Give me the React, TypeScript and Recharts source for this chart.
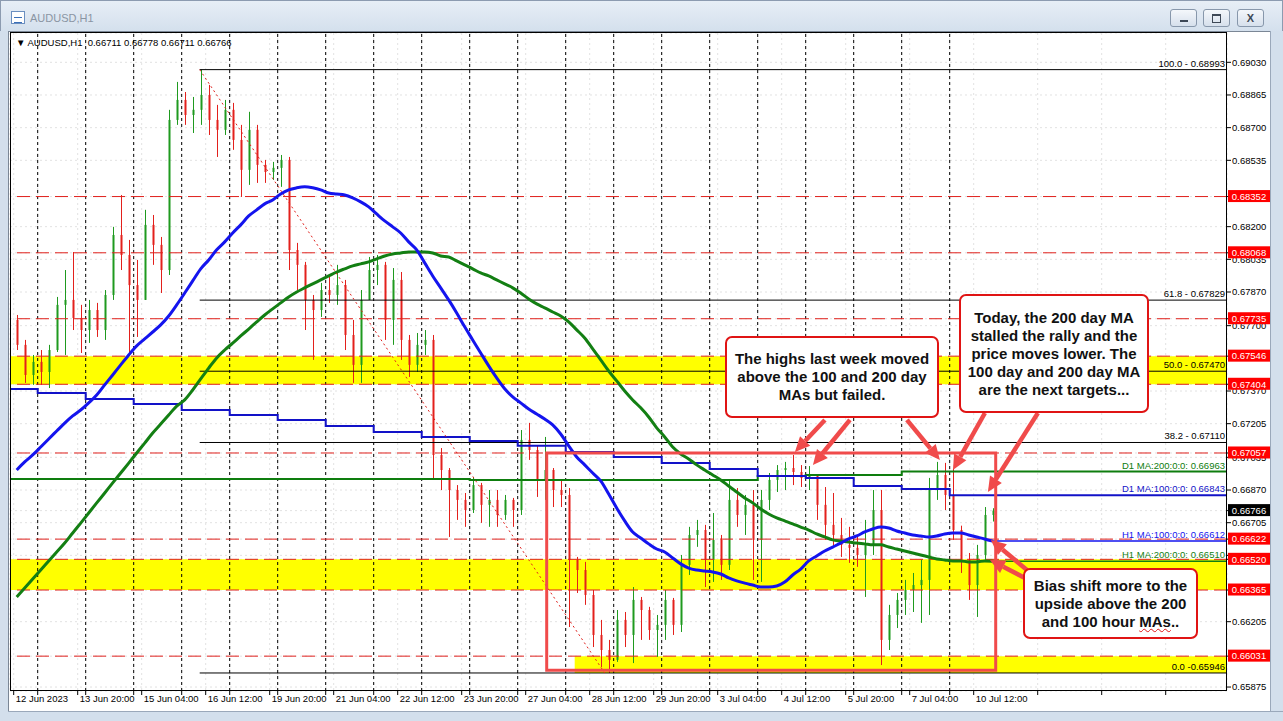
import React from 'react';
import { ComposedChart, Bar, Line, XAxis, YAxis, CartesianGrid, ReferenceLine, ReferenceArea } from 'recharts';

const W = 1283;
const H = 721;
const FONT = "'Liberation Sans', Arial, sans-serif";

// 4-hour OHLC bars [open, high, low, close]; the first visible bar opens 12 Jun 12:00
const week1 = [
  [0.67729, 0.67754, 0.67577, 0.67603], [0.67603, 0.67628, 0.67411, 0.67451], [0.67451, 0.67552, 0.67401, 0.67517],
  [0.67517, 0.67577, 0.67401, 0.67466], [0.67466, 0.67603, 0.67385, 0.67577], [0.67577, 0.67845, 0.67567, 0.67805],
  [0.67805, 0.67981, 0.67552, 0.67830], [0.67830, 0.68072, 0.67678, 0.67739], [0.67739, 0.67805, 0.67562, 0.67678],
  [0.67678, 0.67830, 0.67613, 0.67779], [0.67779, 0.67815, 0.67643, 0.67678], [0.67678, 0.67880, 0.67628, 0.67855],
  [0.67855, 0.68199, 0.67830, 0.68158], [0.68158, 0.68360, 0.67981, 0.68057], [0.68057, 0.68133, 0.67562, 0.67905],
  [0.67905, 0.68032, 0.67643, 0.67830], [0.67830, 0.68285, 0.67830, 0.68209], [0.68209, 0.68259, 0.68007, 0.68108],
  [0.68108, 0.68148, 0.67865, 0.67981], [0.67981, 0.68790, 0.67956, 0.68739], [0.68739, 0.68931, 0.68714, 0.68840],
  [0.68840, 0.68880, 0.68714, 0.68764], [0.68764, 0.68855, 0.68673, 0.68790], [0.68790, 0.68993, 0.68714, 0.68865],
  [0.68865, 0.68916, 0.68663, 0.68739], [0.68739, 0.68815, 0.68552, 0.68689], [0.68689, 0.68840, 0.68663, 0.68790],
];
const week2 = [
  [0.68790, 0.68825, 0.68588, 0.68638], [0.68638, 0.68714, 0.68350, 0.68487], [0.68487, 0.68780, 0.68411, 0.68689],
  [0.68689, 0.68714, 0.68421, 0.68512], [0.68512, 0.68537, 0.68421, 0.68476], [0.68476, 0.68527, 0.68436, 0.68497],
  [0.68497, 0.68562, 0.68401, 0.68537], [0.68537, 0.68552, 0.67981, 0.68082], [0.68082, 0.68118, 0.67880, 0.68007],
  [0.68007, 0.68022, 0.67678, 0.67830], [0.67830, 0.67855, 0.67527, 0.67779], [0.67779, 0.67916, 0.67744, 0.67880],
  [0.67880, 0.67946, 0.67815, 0.67855], [0.67855, 0.68007, 0.67805, 0.67905], [0.67905, 0.67931, 0.67577, 0.67653],
  [0.67653, 0.67729, 0.67411, 0.67502], [0.67502, 0.67880, 0.67411, 0.67830], [0.67830, 0.68047, 0.67830, 0.67981],
  [0.67981, 0.68057, 0.67905, 0.68007], [0.68007, 0.68022, 0.67628, 0.67729], [0.67729, 0.67991, 0.67603, 0.67931],
  [0.67931, 0.67971, 0.67527, 0.67628], [0.67628, 0.67653, 0.67441, 0.67502], [0.67502, 0.67663, 0.67466, 0.67603],
  [0.67603, 0.67678, 0.67552, 0.67628], [0.67628, 0.67653, 0.66921, 0.67047], [0.67047, 0.67082, 0.66870, 0.66971],
  [0.66971, 0.66981, 0.66633, 0.66870], [0.66870, 0.66895, 0.66719, 0.66820], [0.66820, 0.66855, 0.66684, 0.66769],
];
const week3 = [
  [0.66769, 0.66936, 0.66754, 0.66895], [0.66895, 0.66906, 0.66704, 0.66795], [0.66795, 0.66870, 0.66684, 0.66820],
  [0.66820, 0.66870, 0.66684, 0.66744], [0.66744, 0.66845, 0.66719, 0.66820], [0.66820, 0.66830, 0.66684, 0.66769],
  [0.66769, 0.67173, 0.66744, 0.67123], [0.67123, 0.67209, 0.67022, 0.67072], [0.67072, 0.67097, 0.66835, 0.66921],
  [0.66921, 0.67138, 0.66820, 0.66971], [0.66971, 0.66981, 0.66784, 0.66870], [0.66870, 0.66921, 0.66784, 0.66845],
  [0.66845, 0.66880, 0.66178, 0.66517], [0.66517, 0.66532, 0.66350, 0.66466], [0.66466, 0.66507, 0.66290, 0.66340],
  [0.66340, 0.66365, 0.66077, 0.66138], [0.66138, 0.66214, 0.65976, 0.66062], [0.66062, 0.66113, 0.65946, 0.66012],
  [0.66012, 0.66264, 0.66002, 0.66214], [0.66214, 0.66254, 0.66077, 0.66138], [0.66138, 0.66380, 0.65996, 0.66315],
  [0.66315, 0.66330, 0.66113, 0.66264], [0.66264, 0.66280, 0.66113, 0.66163], [0.66163, 0.66239, 0.66027, 0.66189],
  [0.66189, 0.66365, 0.66113, 0.66315], [0.66315, 0.66325, 0.66138, 0.66189], [0.66189, 0.66542, 0.66153, 0.66492],
  [0.66492, 0.66684, 0.66441, 0.66643], [0.66643, 0.66719, 0.66583, 0.66668], [0.66668, 0.66694, 0.66380, 0.66517],
];
const week4 = [
  [0.66517, 0.66754, 0.66406, 0.66618], [0.66618, 0.66643, 0.66416, 0.66492], [0.66492, 0.66921, 0.66466, 0.66820],
  [0.66820, 0.66880, 0.66684, 0.66744], [0.66744, 0.66845, 0.66643, 0.66795], [0.66795, 0.66870, 0.66416, 0.66618],
  [0.66618, 0.66870, 0.66406, 0.66820], [0.66820, 0.66956, 0.66769, 0.66921], [0.66921, 0.66996, 0.66860, 0.66971],
  [0.66971, 0.67012, 0.66870, 0.66981], [0.66981, 0.67047, 0.66895, 0.66961], [0.66961, 0.66996, 0.66885, 0.66931],
  [0.66931, 0.66991, 0.66870, 0.66941], [0.66941, 0.66946, 0.66719, 0.66795], [0.66795, 0.66885, 0.66618, 0.66694],
  [0.66694, 0.66855, 0.66583, 0.66643], [0.66643, 0.66729, 0.66532, 0.66593], [0.66593, 0.66684, 0.66502, 0.66578],
  [0.66578, 0.66633, 0.66482, 0.66542], [0.66542, 0.66719, 0.66330, 0.66593], [0.66593, 0.66870, 0.66542, 0.66769],
  [0.66769, 0.66870, 0.65986, 0.66113], [0.66113, 0.66290, 0.66062, 0.66239], [0.66239, 0.66350, 0.66173, 0.66315],
  [0.66315, 0.66416, 0.66239, 0.66365], [0.66365, 0.66451, 0.66254, 0.66390], [0.66390, 0.66517, 0.66199, 0.66416],
  [0.66416, 0.66931, 0.66239, 0.66870], [0.66870, 0.67012, 0.66820, 0.66946], [0.66946, 0.67007, 0.66769, 0.66845],
];
const week5 = [
  [0.66845, 0.66981, 0.66618, 0.66668], [0.66668, 0.66690, 0.66451, 0.66517], [0.66517, 0.66552, 0.66315, 0.66390],
  [0.66390, 0.66593, 0.66229, 0.66542], [0.66542, 0.66784, 0.66517, 0.66744], [0.66744, 0.66778, 0.66711, 0.66766],
];
const FIRST_BAR = 3; // 4h bars counted from 12 Jun 00:00

// hourly moving averages, sampled at the same 4h bars
const h1Ma100 = [
  0.66971, 0.67012, 0.67047, 0.67087, 0.67128, 0.67168, 0.67208, 0.67244, 0.67274, 0.67310, 0.67350, 0.67401,
  0.67451, 0.67502, 0.67552, 0.67598, 0.67633, 0.67668, 0.67704, 0.67749, 0.67805, 0.67865, 0.67926, 0.67987,
  0.68032, 0.68083, 0.68123, 0.68168, 0.68209, 0.68254, 0.68285, 0.68315, 0.68335, 0.68365, 0.68386, 0.68396,
  0.68401, 0.68396, 0.68386, 0.68370, 0.68365, 0.68360, 0.68345, 0.68325, 0.68300, 0.68264, 0.68229, 0.68199,
  0.68168, 0.68123, 0.68083, 0.68017, 0.67951, 0.67891, 0.67830, 0.67764, 0.67694, 0.67628, 0.67562, 0.67497,
  0.67436, 0.67381, 0.67340, 0.67310, 0.67279, 0.67254, 0.67229, 0.67199, 0.67153, 0.67093, 0.67037, 0.66997,
  0.66956, 0.66916, 0.66850, 0.66779, 0.66714, 0.66658, 0.66628, 0.66598, 0.66572, 0.66557, 0.66527, 0.66497,
  0.66476, 0.66466, 0.66461, 0.66456, 0.66446, 0.66426, 0.66411, 0.66400, 0.66390, 0.66380, 0.66380, 0.66385,
  0.66405, 0.66441, 0.66471, 0.66512, 0.66537, 0.66562, 0.66582, 0.66602, 0.66623, 0.66638, 0.66658, 0.66673,
  0.66683, 0.66678, 0.66663, 0.66653, 0.66643, 0.66638, 0.66633, 0.66638, 0.66648, 0.66653, 0.66653, 0.66643,
  0.66633, 0.66623, 0.66612,
];
const h1Ma200 = [
  0.66330, 0.66375, 0.66421, 0.66466, 0.66512, 0.66557, 0.66602, 0.66653, 0.66703, 0.66754, 0.66805, 0.66855,
  0.66906, 0.66956, 0.67006, 0.67057, 0.67107, 0.67158, 0.67203, 0.67249, 0.67294, 0.67325, 0.67375, 0.67431,
  0.67486, 0.67537, 0.67577, 0.67612, 0.67648, 0.67683, 0.67719, 0.67754, 0.67785, 0.67815, 0.67845, 0.67870,
  0.67891, 0.67911, 0.67931, 0.67951, 0.67971, 0.67987, 0.68002, 0.68012, 0.68022, 0.68037, 0.68052, 0.68062,
  0.68067, 0.68072, 0.68072, 0.68072, 0.68067, 0.68052, 0.68047, 0.68027, 0.68007, 0.67987, 0.67966, 0.67951,
  0.67931, 0.67911, 0.67891, 0.67865, 0.67835, 0.67810, 0.67790, 0.67769, 0.67749, 0.67719, 0.67679, 0.67638,
  0.67583, 0.67527, 0.67471, 0.67421, 0.67370, 0.67325, 0.67285, 0.67239, 0.67184, 0.67138, 0.67087, 0.67052,
  0.67027, 0.66997, 0.66971, 0.66946, 0.66921, 0.66890, 0.66860, 0.66830, 0.66805, 0.66774, 0.66749, 0.66729,
  0.66714, 0.66699, 0.66683, 0.66668, 0.66648, 0.66633, 0.66618, 0.66613, 0.66608, 0.66602, 0.66598, 0.66593,
  0.66593, 0.66582, 0.66572, 0.66562, 0.66552, 0.66542, 0.66532, 0.66522, 0.66517, 0.66512, 0.66512, 0.66507,
  0.66507, 0.66512, 0.66510,
];

// daily moving averages, one value per trading day 12 Jun .. 10 Jul
const d1Ma100 = [
  0.67380, 0.67360, 0.67330, 0.67304, 0.67274, 0.67249, 0.67224, 0.67193, 0.67163, 0.67138, 0.67118,
  0.67093, 0.67062, 0.67037, 0.67007, 0.66976, 0.66941, 0.66931, 0.66890, 0.66875, 0.66843,
];
const d1Ma200 = [
  0.66926, 0.66926, 0.66926, 0.66926, 0.66926, 0.66926, 0.66926, 0.66926, 0.66926, 0.66926, 0.66921,
  0.66921, 0.66921, 0.66921, 0.66921, 0.66921, 0.66941, 0.66946, 0.66946, 0.66963, 0.66963,
];

// hour index counted from 12 Jun 00:00 (trading hours only)
const dateTicks = [
  { t: 12, label: '12 Jun 2023' }, { t: 44, label: '13 Jun 20:00' }, { t: 76, label: '15 Jun 04:00' },
  { t: 108, label: '16 Jun 12:00' }, { t: 140, label: '19 Jun 20:00' }, { t: 172, label: '21 Jun 04:00' },
  { t: 204, label: '22 Jun 12:00' }, { t: 236, label: '23 Jun 20:00' }, { t: 268, label: '27 Jun 04:00' },
  { t: 300, label: '28 Jun 12:00' }, { t: 332, label: '29 Jun 20:00' }, { t: 364, label: '3 Jul 04:00' },
  { t: 396, label: '4 Jul 12:00' }, { t: 428, label: '5 Jul 20:00' }, { t: 460, label: '7 Jul 04:00' },
  { t: 492, label: '10 Jul 12:00' }, { t: 524, label: '' }, { t: 556, label: '' }, { t: 588, label: '' },
];
const dayStarts = d1Ma100.map((_, d) => 24 * d).filter((t) => t > 0);
const priceTicks = [
  0.69030, 0.68865, 0.68700, 0.68535, 0.68200, 0.68035, 0.67870, 0.67700,
  0.67370, 0.67205, 0.67035, 0.66870, 0.66705, 0.66540, 0.66205, 0.65875,
];
const redLevels = [0.68352, 0.68068, 0.67735, 0.67546, 0.67404, 0.67057, 0.66622, 0.66520, 0.66365, 0.66031];
const lastPrice = 0.66766;
const fibLevels = [
  { label: '100.0 - 0.68993', price: 0.68993 },
  { label: '61.8 - 0.67829', price: 0.67829 },
  { label: '50.0 - 0.67470', price: 0.67470 },
  { label: '38.2 - 0.67110', price: 0.67110 },
  { label: '0.0 -0.65946', price: 0.65946 },
];
const fibStart = 105;
const fibLowT = 307.5;
const yellowBands = [
  { from: 0.67404, to: 0.67546, start: null as number | null },
  { from: 0.66365, to: 0.66520, start: null as number | null },
  { from: 0.65946, to: 0.66031, start: 292.5 },
];
const boxRange = { t1: 278.5, t2: 503, p1: 0.6596, p2: 0.67057 };
const arrows = [
  { from: [417.6, 0.67224], to: [402.6, 0.67062] },
  { from: [430.1, 0.67224], to: [411.6, 0.66996] },
  { from: [458.6, 0.67224], to: [475.1, 0.67022] },
  { from: [497.6, 0.67259], to: [481.6, 0.66971] },
  { from: [524.1, 0.67259], to: [499.1, 0.6686] },
  { from: [521.6, 0.66441], to: [500.6, 0.66618] },
  { from: [517.6, 0.66426], to: [500.1, 0.66517] },
];

const T_MIN = 10.15;
const T_MAX = 618.65;
const P_MIN = 0.65855;
const P_MAX = 0.69178;

const UP = '#1f9a1f';
const DOWN = '#e3201c';
const CORAL = '#f04b4b';

const bars = [...week1, ...week2, ...week3, ...week4, ...week5].map((b, i) => ({
  t: 4 * (FIRST_BAR + i) + 1.5,
  open: b[0],
  high: b[1],
  low: b[2],
  close: b[3],
  ma100: h1Ma100[i],
  ma200: h1Ma200[i],
}));
const lastT = bars[bars.length - 1].t;
const d1Line = (vals: number[]) => [...vals.map((v, d) => ({ t: 24 * d, v })), { t: T_MAX, v: vals[vals.length - 1] }];

const Candle = (props: any) => {
  const { x, y, width, height, payload } = props;
  if (!payload || x == null) return null;
  const top = Math.min(y, y + height);
  const h = Math.abs(height);
  const k = h / (payload.high - payload.low || 1);
  const yo = top + (payload.high - payload.open) * k;
  const yc = top + (payload.high - payload.close) * k;
  const color = payload.close >= payload.open ? UP : DOWN;
  const cx = Math.round(x + width / 2) + 0.5;
  return (
    <g>
      <line x1={cx} x2={cx} y1={top} y2={top + h} stroke={color} strokeWidth={1} />
      <rect x={cx - 1} y={Math.min(yo, yc)} width={2} height={Math.max(1, Math.abs(yc - yo))} fill={color} />
    </g>
  );
};

const ArrowShape = (props: any) => {
  const { x1, y1, x2, y2 } = props;
  const a = Math.atan2(y2 - y1, x2 - x1);
  const len = 15;
  const half = 7;
  const bx = x2 - len * Math.cos(a);
  const by = y2 - len * Math.sin(a);
  const px = -Math.sin(a) * half;
  const py = Math.cos(a) * half;
  return (
    <g>
      <line x1={x1} y1={y1} x2={bx} y2={by} stroke={CORAL} strokeWidth={4.5} />
      <polygon points={`${x2},${y2} ${bx + px},${by + py} ${bx - px},${by - py}`} fill={CORAL} />
    </g>
  );
};

const rightText = (text: string, color: string) => (props: any) => {
  const vb = props.viewBox || {};
  return (
    <text x={vb.x + vb.width - 2} y={vb.y - 3} textAnchor="end" fill={color} fontSize={9.5} fontFamily={FONT}>{text}</text>
  );
};

// regular price labels first, then the line tags so the tags sit on top
const axisTicks = [...priceTicks, ...redLevels, lastPrice];

const PriceTick = ({ x, y, payload }: any) => {
  const v = Number(payload.value);
  const isTag = redLevels.includes(v) || v === lastPrice;
  if (isTag) {
    const bg = v === lastPrice ? '#000' : '#ff0000';
    return (
      <g>
        <rect x={x - 4} y={y - 6.5} width={42} height={12} fill={bg} />
        <text x={x + 17} y={y} dy="0.35em" textAnchor="middle" fill="#fff" fontSize={9.5} fontFamily={FONT}>{v.toFixed(5)}</text>
      </g>
    );
  }
  return (
    <text x={x} y={y} dy="0.35em" fontSize={9.5} fontFamily={FONT} fill="#000">{v.toFixed(5)}</text>
  );
};

const DateTick = ({ x, y, payload }: any) => {
  const item = dateTicks.find((d) => d.t === payload.value);
  if (!item || !item.label) return <g />;
  return (
    <text x={x + 2} y={y + 5} fontSize={9.5} fontFamily={FONT} fill="#000">{item.label}</text>
  );
};

const boxStyle: React.CSSProperties = {
  position: 'absolute',
  background: '#fff',
  border: '2px solid #e01414',
  borderRadius: 7,
  boxSizing: 'border-box',
  display: 'flex',
  alignItems: 'center',
  justifyContent: 'center',
  textAlign: 'center',
  fontFamily: FONT,
  fontWeight: 700,
  fontSize: 15,
  lineHeight: '18px',
  color: '#111',
};

function WindowChrome() {
  const btn = (left: number, glyph: React.ReactNode) => (
    <div style={{ position: 'absolute', left, top: 9, width: 27, height: 18, borderRadius: 3, border: '1px solid #8797ab', background: 'linear-gradient(#f4f7fb, #d6e0ec)', boxSizing: 'border-box', display: 'flex', alignItems: 'center', justifyContent: 'center', fontSize: 11, color: '#3d4856', fontFamily: FONT }}>{glyph}</div>
  );
  return (
    <>
      <div style={{ position: 'absolute', left: 0, top: 0, width: W, height: H, background: '#d3dfec', border: '1px solid #8c9bb0', boxSizing: 'border-box' }} />
      <div style={{ position: 'absolute', left: 1, top: 1, width: W - 2, height: 30, background: 'linear-gradient(#e7eef6, #d4e0ed)' }} />
      <div style={{ position: 'absolute', left: 11, top: 11, width: 14, height: 13, background: '#fff', border: '1px solid #6b8fc0', boxSizing: 'border-box' }}>
        <div style={{ position: 'absolute', left: 2, top: 5, width: 8, height: 4, borderTop: '1px solid #3a6fb8', borderBottom: '1px solid #3a6fb8' }} />
      </div>
      <div style={{ position: 'absolute', left: 30, top: 12, fontSize: 11, color: '#8a95a3', fontFamily: FONT }}>AUDUSD,H1</div>
      {btn(1170, <span style={{ display: 'block', width: 8, height: 2, background: '#3d4856', marginTop: 5 }} />)}
      {btn(1203, <span style={{ display: 'block', width: 7, height: 6, border: '1px solid #3d4856', borderTopWidth: 2 }} />)}
      {btn(1237, <span style={{ fontWeight: 700 }}>X</span>)}
      <div style={{ position: 'absolute', left: 8, top: 31, width: 1262, height: 680, background: '#fff', borderLeft: '1px solid #7b8796', borderTop: '1px solid #7b8796', boxSizing: 'border-box' }} />
    </>
  );
}

export default function App() {
  return (
    <div style={{ position: 'fixed', left: 0, top: 0, width: W, height: H, overflow: 'hidden', background: '#fff' }}>
      <WindowChrome />
      <div style={{ position: 'absolute', left: 0, top: 0 }}>
        <ComposedChart width={W} height={H} data={bars} margin={{ top: 33, right: 0, bottom: 0, left: 10 }}>
          <CartesianGrid stroke="#e2e2e2" strokeDasharray="2 3" />
          <XAxis
            dataKey="t"
            type="number"
            domain={[T_MIN, T_MAX]}
            allowDataOverflow
            ticks={[...dateTicks.map((d) => d.t), ...dayStarts]}
            tick={<DateTick />}
            tickSize={4}
            tickLine={{ stroke: '#000' }}
            axisLine={false}
            height={30}
            interval={0}
          />
          <YAxis
            orientation="right"
            type="number"
            domain={[P_MIN, P_MAX]}
            allowDataOverflow
            ticks={axisTicks}
            tick={<PriceTick />}
            tickSize={4}
            tickMargin={1}
            tickLine={{ stroke: '#000' }}
            axisLine={false}
            width={56}
            interval={0}
          />
          {yellowBands.map((b, i) => (
            <ReferenceArea key={`yb${i}`} x1={b.start ?? undefined} y1={b.from} y2={b.to} fill="#ffff00" fillOpacity={1} stroke="none" ifOverflow="hidden" />
          ))}
          {dayStarts.map((t) => (
            <ReferenceLine key={`sep${t}`} x={t} stroke="#000" strokeDasharray="3 3" strokeWidth={1} />
          ))}
          {redLevels.map((v) => (
            <ReferenceLine key={`lv${v}`} y={v} stroke="#e0201c" strokeDasharray="13 6" strokeWidth={1} />
          ))}
          {fibLevels.map((f) => (
            <ReferenceLine key={f.label} segment={[{ x: fibStart, y: f.price }, { x: T_MAX, y: f.price }]} stroke="#000" strokeWidth={1} label={rightText(f.label, '#000')} />
          ))}
          <Bar dataKey={(d: any) => [d.low, d.high]} barSize={6} shape={<Candle />} isAnimationActive={false} />
          <Line data={d1Line(d1Ma200)} dataKey="v" type="stepAfter" stroke="#0e7d0e" strokeWidth={2} dot={false} isAnimationActive={false} />
          <Line data={d1Line(d1Ma100)} dataKey="v" type="stepAfter" stroke="#1212c8" strokeWidth={2} dot={false} isAnimationActive={false} />
          <Line dataKey="ma200" type="monotone" stroke="#137f13" strokeWidth={3} dot={false} isAnimationActive={false} />
          <Line dataKey="ma100" type="monotone" stroke="#1414ee" strokeWidth={3} dot={false} isAnimationActive={false} />
          <ReferenceLine segment={[{ x: lastT, y: h1Ma100[h1Ma100.length - 1] }, { x: T_MAX, y: h1Ma100[h1Ma100.length - 1] }]} stroke="#1414ee" strokeWidth={1.5} />
          <ReferenceLine segment={[{ x: lastT, y: h1Ma200[h1Ma200.length - 1] }, { x: T_MAX, y: h1Ma200[h1Ma200.length - 1] }]} stroke="#137f13" strokeWidth={1.5} />
          <ReferenceLine y={d1Ma200[d1Ma200.length - 1]} stroke="none" label={rightText(`D1 MA:200:0:0: ${d1Ma200[d1Ma200.length - 1].toFixed(5)}`, '#0e7d0e')} />
          <ReferenceLine y={d1Ma100[d1Ma100.length - 1]} stroke="none" label={rightText(`D1 MA:100:0:0: ${d1Ma100[d1Ma100.length - 1].toFixed(5)}`, '#1212c8')} />
          <ReferenceLine y={h1Ma100[h1Ma100.length - 1]} stroke="none" label={rightText(`H1 MA:100:0:0: ${h1Ma100[h1Ma100.length - 1].toFixed(5)}`, '#1414ee')} />
          <ReferenceLine y={h1Ma200[h1Ma200.length - 1]} stroke="none" label={rightText(`H1 MA:200:0:0: ${h1Ma200[h1Ma200.length - 1].toFixed(5)}`, '#137f13')} />
          <ReferenceLine segment={[{ x: fibStart, y: fibLevels[0].price }, { x: fibLowT, y: fibLevels[4].price }]} stroke="#e0201c" strokeDasharray="2 3" strokeWidth={1} />
          <ReferenceArea x1={boxRange.t1} x2={boxRange.t2} y1={boxRange.p1} y2={boxRange.p2} fill="none" stroke={CORAL} strokeWidth={3} zIndex={450} />
          {arrows.map((a, i) => (
            <ReferenceLine key={`ar${i}`} segment={[{ x: a.from[0], y: a.from[1] }, { x: a.to[0], y: a.to[1] }]} shape={<ArrowShape />} zIndex={600} />
          ))}
        </ComposedChart>
      </div>
      <div style={{ position: 'absolute', left: 10, top: 32, width: 1217, height: 659, border: '1px solid #000', boxSizing: 'border-box', pointerEvents: 'none' }} />
      <div style={{ position: 'absolute', left: 1270, top: 31, width: 13, height: 690, background: '#d3dfec', borderLeft: '1px solid #9aa8ba', boxSizing: 'border-box' }} />
      <div style={{ position: 'absolute', left: 0, top: 711, width: W, height: 10, background: '#d3dfec', borderTop: '1px solid #9aa8ba', boxSizing: 'border-box' }} />
      <div style={{ position: 'absolute', left: 0, top: 31, width: 8, height: 690, background: '#d3dfec' }} />
      <div style={{ position: 'absolute', left: 16, top: 37, fontSize: 9.5, fontFamily: FONT, color: '#000', whiteSpace: 'pre' }}>
        {'\u25BC AUDUSD,H1  0.66711 0.66778 0.66711 0.66766'}
      </div>
      <div style={{ ...boxStyle, left: 725, top: 336, width: 214, height: 82 }}>
        <div>The highs last week moved<br />above the 100 and 200 day<br />MAs but failed.</div>
      </div>
      <div style={{ ...boxStyle, left: 959, top: 294, width: 190, height: 119 }}>
        <div>Today, the 200 day MA<br />stalled the rally and the<br />price moves lower. The<br />100 day and 200 day MA<br />are the next targets...</div>
      </div>
      <div style={{ ...boxStyle, left: 1023, top: 568, width: 175, height: 71 }}>
        <div>Bias shift more to the<br />upside above the 200<br />and 100 hour <span style={{ textDecoration: 'underline wavy #e01414', textDecorationThickness: 1 }}>MAs</span>..</div>
      </div>
    </div>
  );
}
